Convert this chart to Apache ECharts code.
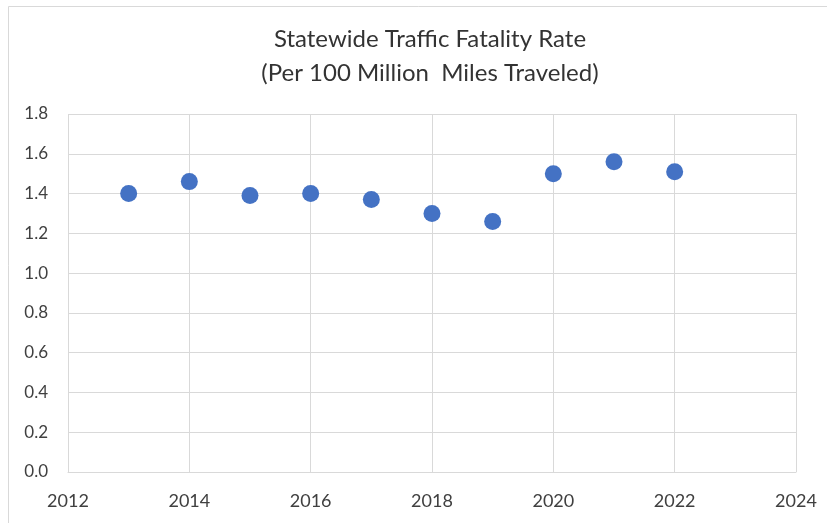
<!DOCTYPE html>
<html>
<head>
<meta charset="utf-8">
<script src="https://cdn.jsdelivr.net/npm/echarts@6/dist/echarts.min.js"></script>
<style>
  html, body { margin: 0; padding: 0; background: #fff; }
  #chart { width: 827px; height: 523px; }
</style>
</head>
<body>
<div id="chart"></div>
<script>
// data
const years = [2013, 2014, 2015, 2016, 2017, 2018, 2019, 2020, 2021, 2022];
const rates = [1.40, 1.46, 1.39, 1.40, 1.37, 1.30, 1.26, 1.50, 1.56, 1.51];
const titleLines = ['Statewide Traffic Fatality Rate', '(Per 100 Million  Miles Traveled)'];

const chartDom = document.getElementById('chart');
const myChart = echarts.init(chartDom);

const font = 'Lato, "Open Sans", sans-serif';

const option = {
    animation: false,
    backgroundColor: '#fff',
    graphic: [{
        // outer chart border, cut off at right/bottom like the source image
        type: 'rect',
        shape: { x: 8.5, y: 6.5, width: 900, height: 600 },
        style: { fill: 'none', stroke: '#d9d9d9', lineWidth: 1 },
        silent: true
    }],
    title: {
        text: titleLines.join('\n'),
        left: 425,
        textAlign: 'center',
        top: 17,
        textStyle: {
            fontFamily: font,
            fontSize: 24,
            fontWeight: 'normal',
            color: '#333333',
            lineHeight: 34
        }
    },
    grid: {
        left: 68,
        right: 31,
        top: 114,
        bottom: 51
    },
    xAxis: {
        type: 'value',
        min: 2012,
        max: 2024,
        interval: 2,
        axisLine: { show: true, lineStyle: { color: '#d9d9d9' } },
        axisTick: { show: false },
        splitLine: { show: true, lineStyle: { color: '#d9d9d9' } },
        axisLabel: {
            margin: 20,
            fontFamily: font,
            fontSize: 18,
            color: '#404040',
            formatter: v => String(v)
        }
    },
    yAxis: {
        type: 'value',
        min: 0,
        max: 1.8,
        interval: 0.2,
        axisLine: { show: false },
        axisTick: { show: false },
        splitLine: { show: true, lineStyle: { color: '#d9d9d9' } },
        axisLabel: {
            margin: 20,
            fontFamily: font,
            fontSize: 17,
            color: '#404040',
            formatter: v => v.toFixed(1)
        }
    },
    series: [{
        type: 'scatter',
        symbolSize: 17,
        itemStyle: { color: '#4472C4', opacity: 1 },
        data: years.map((y, i) => [y, rates[i]])
    }]
};

myChart.setOption(option);
</script>
</body>
</html>
